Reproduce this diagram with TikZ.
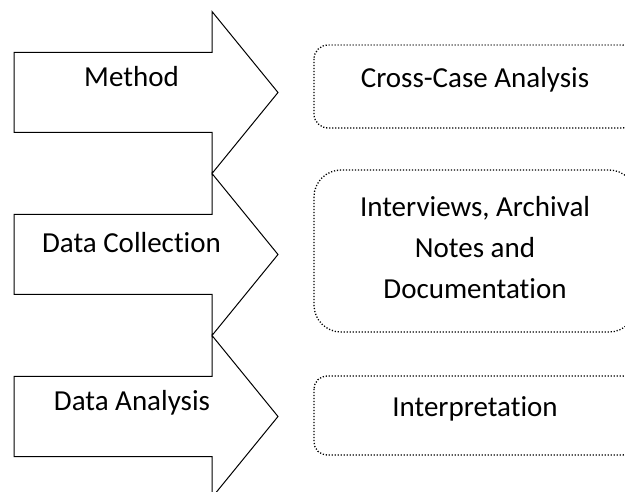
\documentclass[tikz,border=0pt]{standalone}
\usepackage{fontspec}
\setmainfont[Ligatures={NoCommon}]{Carlito}
\usetikzlibrary{positioning}

\begin{document}
\begin{tikzpicture}[x=1pt, y=-1pt, line width=1pt,
    every node/.style={font=\fontsize{29}{41}\selectfont, inner sep=0pt},
    stage/.style={draw, line join=miter},
    frame/.style={draw, line width=1.3pt, dash pattern=on 1.2pt off 1.8pt}]
  \useasboundingbox (0,0) rectangle (625,492);
  \clip (0,0) rectangle (625,492);
  % stage arrows
  \foreach \c in {92.5, 254.5, 416.5}
    \draw[stage] (14,\c-40) -- (212,\c-40) -- (212,\c-81) -- (278,\c)
      -- (212,\c+81) -- (212,\c+40) -- (14,\c+40) -- cycle;
  \node[anchor=base] (method) at (131.5,87) {Method};
  \node[anchor=base] (collection) at (131.5,253) {Data Collection};
  \node[anchor=base] (analysis) at (132,410) {Data Analysis};
  % dotted boxes
  \draw[frame, rounded corners=14pt] (314,45) rectangle (636,128);
  \draw[frame, rounded corners=27pt] (314,170) rectangle (636,332);
  \draw[frame, rounded corners=13pt] (314,376) rectangle (636,455);
  \node[anchor=base] (crosscase) at (475,88) {Cross-Case Analysis};
  \node[align=center] (sources) at (475,248) {Interviews, Archival\\Notes and\\Documentation};
  \node[anchor=base] (interpret) at (475,417) {Interpretation};
\end{tikzpicture}
\end{document}
